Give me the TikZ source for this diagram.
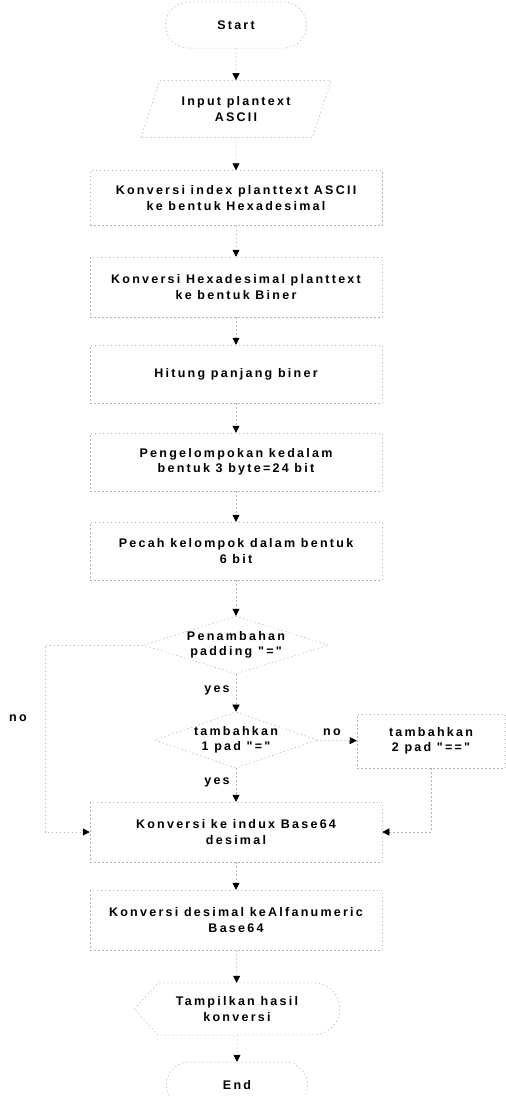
\documentclass[tikz,border=0pt]{standalone}
\usepackage{fontspec}
\setmainfont{Liberation Sans}[LetterSpace=18, Ligatures=TeXOff]
\usetikzlibrary{shapes.geometric,shapes.misc,arrows.meta,positioning}

\begin{document}
\begin{tikzpicture}[x=1pt,y=-1pt,
    every node/.style={font=\fontsize{12.5}{15.5}\selectfont\bfseries, align=center},
    faint/.style={draw=gray!60, line width=0.5pt, dash pattern=on 1.5pt off 2.5pt},
    flow/.style={faint, -{Triangle[width=7pt,length=7pt,color=black]}},
    proc/.style={faint, rectangle, minimum width=292, minimum height=58, inner sep=0pt},
    term/.style={faint, rounded rectangle, minimum width=148, minimum height=46},
    io/.style={faint, trapezium, trapezium left angle=53, trapezium right angle=127,
        trapezium stretches body, minimum width=190, minimum height=57, inner sep=0pt},
    cond/.style={faint, diamond, inner sep=0pt}]
    \useasboundingbox (0,0) rectangle (506,1096);

    % Start and input
    \node[term] (start) at (236,25) {Start};
    \node[io] (input) at (236,109) {Input plantext\\ASCII};

    % Conversion steps
    \node[proc, minimum height=55] (hexa) at (236,198) {Konversi index planttext ASCII\\ke bentuk Hexadesimal};
    \node[proc, minimum height=60] (biner) at (236,287) {Konversi Hexadesimal planttext\\ke bentuk Biner};
    \node[proc] (panjang) at (236,374) {Hitung panjang biner};
    \node[proc] (grup) at (236,462) {Pengelompokan kedalam\\bentuk 3 byte=24 bit};
    \node[proc] (pecah) at (236,551) {Pecah kelompok dalam bentuk\\6 bit};

    % Padding
    \node[cond, aspect=3.2] (padding) at (236,645) {Penambahan\\padding "="};
    \node[cond, aspect=2.9] (pad1) at (236,740) {tambahkan\\1 pad "="};
    \node[faint, rectangle, minimum width=148, minimum height=54] (pad2) at (431,741) {tambahkan\\2 pad "=="};
    \node (yesa) at (217,690) {yes};
    \node (yesb) at (217,782) {yes};
    \node (noa) at (18,718) {no};
    \node (nob) at (332,732) {no};
    \coordinate (noleft) at (45,645);

    % Base64
    \node[proc, minimum height=60] (indeks) at (236,832) {Konversi ke indux Base64\\desimal};
    \node[proc, minimum height=60] (alfa) at (236,920) {Konversi desimal keAlfanumeric\\Base64};
    \node[minimum width=205, minimum height=52, inner sep=0pt] (tampil) at (237,1009) {Tampilkan hasil\\konversi};
    \draw[faint] (tampil.west) -- ([xshift=24pt]tampil.north west) -- ([xshift=-26pt]tampil.north east)
        arc[start angle=90, end angle=-90, radius=26pt] -- ([xshift=24pt]tampil.south west) -- cycle;
    \node[term] (end) at (237,1085) {End};

    % Arrows
    \draw[flow] (start) -- (input);
    \draw[flow] (input) -- (hexa);
    \draw[flow] (hexa) -- (biner);
    \draw[flow] (biner) -- (panjang);
    \draw[flow] (panjang) -- (grup);
    \draw[flow] (grup) -- (pecah);
    \draw[flow] (pecah) -- (padding);
    \draw[flow] (padding) -- (pad1);
    \draw[flow] (pad1) -- (pad2);
    \draw[flow] (pad1) -- (indeks);
    \draw[flow] (padding.west) -- (noleft) |- (indeks.west);
    \draw[flow] (pad2.south) |- (indeks.east);
    \draw[flow] (indeks) -- (alfa);
    \draw[flow] (alfa) -- (tampil);
    \draw[flow] (tampil) -- (end);
\end{tikzpicture}
\end{document}
